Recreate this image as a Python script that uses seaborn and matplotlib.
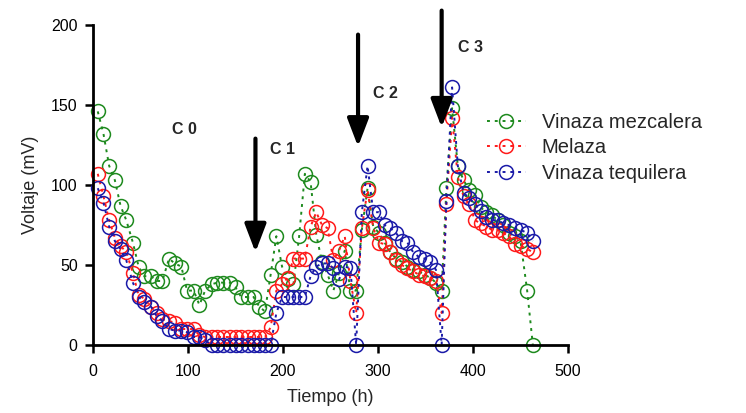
import matplotlib
matplotlib.use("Agg")
import matplotlib.pyplot as plt
import seaborn as sns

# Sampling times (h), four feeding cycles C0-C3
tiempo = [5, 11, 17, 23, 29, 35, 42, 48, 54, 61, 67, 73, 80, 86, 93, 99, 106, 112, 118, 125,
          131, 137, 144, 150, 156, 163, 169, 175, 181,
          187, 193, 199, 205, 211, 217, 223, 229, 235, 241, 247, 253, 259, 265, 271, 277,
          283, 289, 295, 301, 307, 313, 319, 325, 331, 337, 343, 349, 355, 361, 367,
          372, 378, 384, 390, 396, 402, 408, 414, 420, 426, 432, 438, 444, 450, 457, 463]

# Voltage (mV) per substrate
vinaza_mezcalera = [146, 132, 112, 103, 87, 78, 64, 49, 43, 43, 40, 40, 54, 51, 49, 34, 34, 25, 34, 38,
                    39, 39, 39, 36, 30, 30, 30, 24, 21,
                    44, 68, 49, 41, 38, 68, 107, 102, 69, 52, 44, 34, 45, 59, 34, 34,
                    72, 98, 74, 70, 64, 58, 54, 52, 49, 47, 46, 44, 42, 39, 34,
                    98, 148, 112, 103, 97, 94, 86, 83, 81, 78, 75, 70, 68, 65, 34, 0]
melaza = [107, 93, 78, 67, 62, 58, 45, 31, 29, 24, 20, 16, 15, 14, 10, 10, 10, 6, 5, 5,
          5, 5, 5, 5, 5, 5, 5, 5, 5,
          11, 34, 38, 42, 54, 54, 54, 74, 83, 75, 73, 53, 59, 68, 40, 20,
          73, 97, 73, 64, 63, 58, 53, 50, 48, 46, 44, 43, 42, 40, 20,
          88, 142, 105, 93, 88, 78, 76, 74, 72, 72, 70, 68, 63, 62, 60, 58]
vinaza_tequilera = [98, 89, 74, 65, 60, 53, 39, 30, 27, 24, 18, 15, 10, 9, 9, 8, 5, 5, 3, 0,
                    0, 0, 0, 0, 0, 0, 0, 0, 0,
                    0, 20, 30, 30, 30, 30, 30, 43, 49, 51, 51, 48, 41, 49, 48, 0,
                    83, 112, 83, 83, 75, 73, 70, 65, 64, 58, 55, 54, 52, 47, 0,
                    90, 161, 112, 95, 92, 88, 84, 80, 78, 78, 76, 75, 73, 72, 70, 65]

nombres = ["Vinaza mezcalera", "Melaza", "Vinaza tequilera"]
colores = ["#1e8a1e", "#ff1a1a", "#1a1aa8"]

# Cycle labels and arrow positions (h, mV)
ciclos = ["C 0", "C 1", "C 2", "C 3"]
ciclo_x = [96, 200, 308, 397]
ciclo_y = [135, 122, 157, 186]
flecha_x = [171, 279, 367]
flecha_cola = [129, 194, 209]
flecha_punta = [58, 124, 136]

sns.set_theme(style="ticks")
plt.rcParams["font.family"] = ["Liberation Sans", "DejaVu Sans"]

fig = plt.figure(figsize=(7.46, 4.13), dpi=100)
ax = fig.add_axes([93 / 746, 68 / 413, 475 / 746, 320 / 413])

for nombre, valores, color in zip(nombres, [vinaza_mezcalera, melaza, vinaza_tequilera], colores):
    sns.lineplot(x=tiempo, y=valores, ax=ax, color=color, marker="o", markersize=10,
                 mfc="none", mec=color, mew=1.1, linestyle=(0, (1.5, 2.5)), lw=1.4,
                 label=nombre, clip_on=False, sort=False, estimator=None)

for xa, y0, y1 in zip(flecha_x, flecha_cola, flecha_punta):
    ax.annotate("", xy=(xa, y1), xytext=(xa, y0),
                arrowprops=dict(arrowstyle="-|>,head_length=1.7,head_width=0.65",
                                mutation_scale=10, lw=3, color="black",
                                shrinkA=0, shrinkB=0))

for etiqueta, xc, yc in zip(ciclos, ciclo_x, ciclo_y):
    ax.text(xc, yc, etiqueta, fontsize=11.5, fontweight="bold", ha="center", va="center")

ax.set_xlim(0, 500)
ax.set_ylim(0, 200)
ax.set_xticks(range(0, 501, 100))
ax.set_yticks(range(0, 201, 50))
ax.tick_params(axis="both", direction="out", length=6, width=1.8, labelsize=11.5, colors="black")
ax.tick_params(axis="x", pad=8)
ax.tick_params(axis="y", pad=5)
for lado in ["top", "right"]:
    ax.spines[lado].set_visible(False)
for lado in ["left", "bottom"]:
    ax.spines[lado].set_linewidth(2)
    ax.spines[lado].set_color("black")

ax.set_xlabel("Tiempo (h)", fontsize=13, labelpad=7)
ax.set_ylabel("Voltaje (mV)", fontsize=13, labelpad=9)

ax.legend(loc="upper left", bbox_to_anchor=(0.83, 0.725), frameon=False, fontsize=14.5,
          handlelength=1.9, handletextpad=0.8, labelspacing=0.32, borderaxespad=0,
          borderpad=0)

fig.savefig("out.png", dpi=100)
